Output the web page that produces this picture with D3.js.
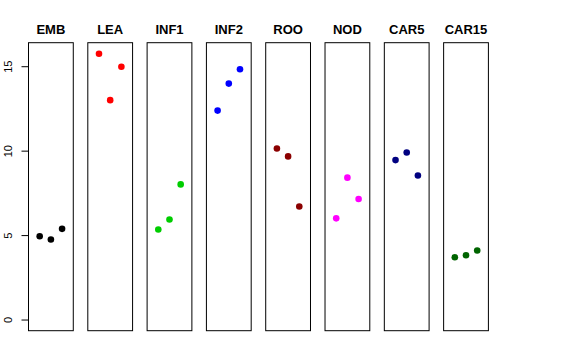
<!DOCTYPE html>
<html><head><meta charset="utf-8">
<script src="https://cdn.jsdelivr.net/npm/d3@7"></script>
<style>body{margin:0;background:#fff}svg{display:block}</style>
</head><body>
<script>
const categories = ["EMB","LEA","INF1","INF2","ROO","NOD","CAR5","CAR15"];
const colors = ["#000000","#FF0000","#00CD00","#0000FF","#8B0000","#FF00FF","#000080","#006400"];
const emb = [4.96, 4.77, 5.40];
const lea = [15.77, 13.02, 15.0];
const inf1 = [5.36, 5.95, 8.03];
const inf2 = [12.40, 14.0, 14.85];
const roo = [10.16, 9.69, 6.72];
const nod = [6.02, 8.43, 7.17];
const car5 = [9.47, 9.92, 8.56];
const car15 = [3.72, 3.84, 4.12];
const seriesValues = [emb, lea, inf1, inf2, roo, nod, car5, car15];
const yTicks = [0, 5, 10, 15];

const W = 576, H = 360;
const svg = d3.select("body").append("svg").attr("width", W).attr("height", H);

const ymax = 15.79, pad = 0.04 * ymax;
const y = d3.scaleLinear().domain([-pad, ymax + pad]).range([330.7, 42.7]);
const band = d3.scaleBand().domain(categories).range([28.5, 488.4]).paddingInner(0.245);
const xi = d3.scaleLinear().domain([0, 4]).range([0, band.bandwidth()]);

categories.forEach((c, i) => {
  const g = svg.append("g").attr("transform", `translate(${band(c)},0)`);
  g.append("rect")
    .attr("x", 0).attr("y", y.range()[1])
    .attr("width", band.bandwidth()).attr("height", y.range()[0] - y.range()[1])
    .attr("fill", "none").attr("stroke", "#000").attr("stroke-width", 1);
  g.append("text")
    .attr("x", band.bandwidth() / 2).attr("y", 34)
    .attr("text-anchor", "middle")
    .attr("font-family", "Liberation Sans, Arial, sans-serif")
    .attr("font-weight", "bold").attr("font-size", 13)
    .text(c);
  g.selectAll("circle").data(seriesValues[i]).enter().append("circle")
    .attr("cx", (d, j) => xi(j + 1))
    .attr("cy", d => y(d))
    .attr("r", 3.3)
    .attr("fill", colors[i]);
});

// y axis
const ax = svg.append("g").attr("transform", `translate(${band(categories[0])},0)`);
ax.append("line").attr("x1", 0).attr("x2", 0).attr("y1", y(0)).attr("y2", y(15)).attr("stroke", "#000");
ax.selectAll("line.tick").data(yTicks).enter().append("line").attr("class", "tick")
  .attr("x1", -7).attr("x2", 0).attr("y1", d => y(d)).attr("y2", d => y(d)).attr("stroke", "#000");
ax.selectAll("text").data(yTicks).enter().append("text")
  .attr("transform", d => `translate(${-20.5},${y(d)}) rotate(-90)`)
  .attr("text-anchor", "middle")
  .attr("dy", "0.35em")
  .attr("font-family", "Liberation Sans, Arial, sans-serif")
  .attr("font-size", 11)
  .text(d => d);
</script>
</body></html>
